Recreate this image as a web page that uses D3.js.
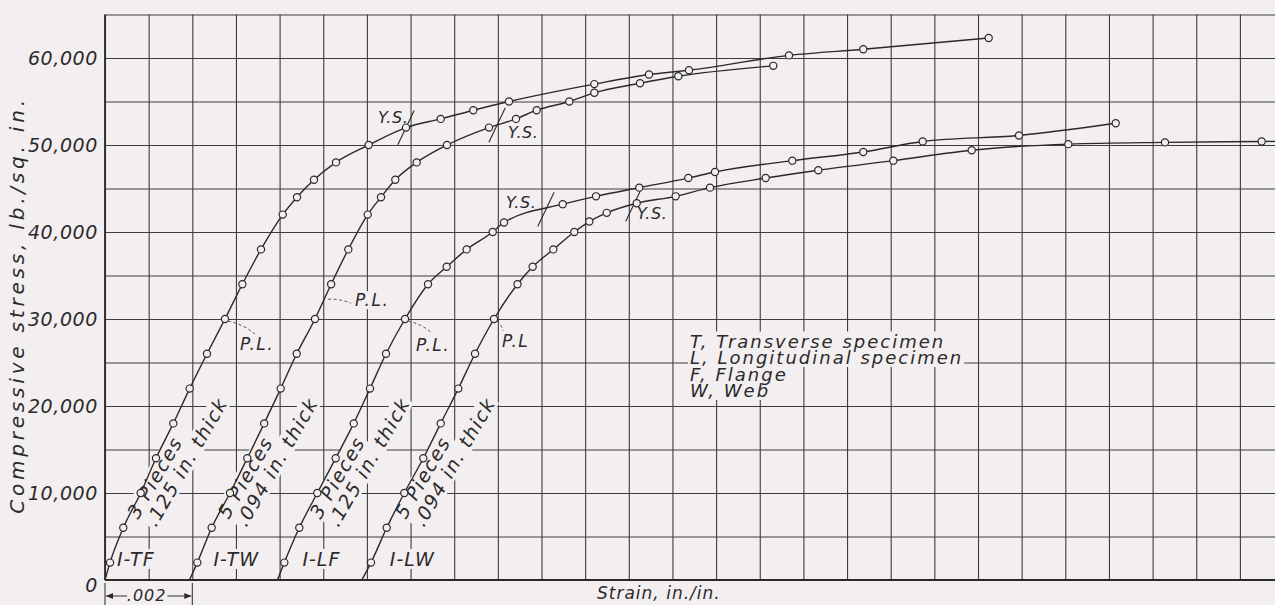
<!DOCTYPE html>
<html>
<head>
<meta charset="utf-8">
<script src="https://cdn.jsdelivr.net/npm/d3@7"></script>
<style>
  html, body { margin: 0; padding: 0; background: #f3eef0; }
  svg { display: block; }
  text { font-family: "DejaVu Sans", sans-serif; font-style: oblique; fill: #2a2a2a; }
</style>
</head>
<body>
<svg id="chart" width="1275" height="605"></svg>
<script>
// Compressive stress-strain curves for I-beam specimens.
// Stress in lb./sq. in.; strain in units of 0.001 in./in.
// Each curve's origin is shifted .002 to the right of the previous one.

const specimens = ["I-TF", "I-TW", "I-LF", "I-LW"];
const pieces    = ["3 Pieces", "5 Pieces", "3 Pieces", "5 Pieces"];
const thickness = [".125 in. thick", ".094 in. thick", ".125 in. thick", ".094 in. thick"];

const strainTF = [0, 0.115, 0.419, 0.818, 1.168, 1.565, 1.940, 2.337, 2.749, 3.146, 3.574, 4.071, 4.399, 4.788,
                  5.292, 6.041, 6.896, 7.691, 8.438, 9.255, 11.210, 12.463, 13.379, 15.670, 17.372, 20.245];
const stressTF = [0, 2000, 6000, 10000, 14000, 18000, 22000, 26000, 30000, 34000, 38000, 42000, 44000, 46000,
                  48000, 50000, 52000, 53000, 54000, 55000, 57000, 58100, 58600, 60300, 61000, 62300];

const strainTW = [1.935, 2.115, 2.444, 2.864, 3.260, 3.647, 4.025, 4.392, 4.811, 5.181, 5.574, 6.018, 6.323, 6.651,
                  7.141, 7.835, 8.797, 9.416, 9.890, 10.637, 11.210, 12.257, 13.134, 15.310];
const stressTW = [0, 2000, 6000, 10000, 14000, 18000, 22000, 26000, 30000, 34000, 38000, 42000, 44000, 46000,
                  48000, 50000, 52000, 53000, 54000, 55000, 56000, 57100, 57900, 59100];

const strainLF = [3.950, 4.108, 4.451, 4.864, 5.285, 5.698, 6.071, 6.438, 6.873, 7.400, 7.828, 8.286, 8.882, 9.141,
                  10.486, 11.249, 12.240, 13.363, 13.975, 15.746, 17.372, 18.733, 20.939, 23.155];
const stressLF = [0, 2000, 6000, 10000, 14000, 18000, 22000, 26000, 30000, 34000, 36000, 38000, 40000, 41100,
                  43200, 44100, 45100, 46200, 46900, 48200, 49200, 50400, 51100, 52500];

const strainLW = [5.883, 6.094, 6.454, 6.857, 7.292, 7.691, 8.094, 8.477, 8.912, 9.450, 9.798, 10.271, 10.751, 11.095,
                  11.494, 12.181, 13.074, 13.860, 15.136, 16.341, 18.060, 19.856, 22.069, 24.284, 26.499, 27.500];
const stressLW = [0, 2000, 6000, 10000, 14000, 18000, 22000, 26000, 30000, 34000, 36000, 38000, 40000, 41200,
                  42200, 43300, 44100, 45100, 46200, 47100, 48200, 49400, 50100, 50300, 50400, 50450];

// Proportional limit and yield strength of each specimen (lb./sq. in.)
const plStress = [30000, 32500, 30000, 30000];
const plText   = ["P.L.", "P.L.", "P.L.", "P.L"];
const ysStress = [52000, 52300, 42600, 43200];

const stressTicks = [0, 10000, 20000, 30000, 40000, 50000, 60000];
const legendLines = ["T, Transverse specimen", "L, Longitudinal specimen", "F, Flange", "W, Web"];

// ---------------------------------------------------------------------------
const W = 1275, H = 605;
const paper = "#f3eef0", ink = "#2a2a2a", gridInk = "#3c3c3c";

const x = d3.scaleLinear().domain([0, 27]).range([105, 1283.55]);
const y = d3.scaleLinear().domain([0, 65000]).range([580, 14.5]);

const curves = [
  { strain: strainTF, stress: stressTF },
  { strain: strainTW, stress: stressTW },
  { strain: strainLF, stress: stressLF },
  { strain: strainLW, stress: stressLW }
];

function strainAt(c, s) {
  for (let i = 1; i < c.stress.length; i++) {
    if (c.stress[i] >= s) {
      const t = (s - c.stress[i - 1]) / (c.stress[i] - c.stress[i - 1]);
      return c.strain[i - 1] + t * (c.strain[i] - c.strain[i - 1]);
    }
  }
  return c.strain[c.strain.length - 1];
}

const svg = d3.select("#chart");
svg.append("rect").attr("width", W).attr("height", H).attr("fill", paper);

// Grid: one line per .001 strain and per 5,000 lb./sq. in.
const gridV = svg.append("g").attr("transform", `translate(0,${y(0)})`)
  .call(d3.axisBottom(x).tickValues(d3.range(0, 28)).tickSize(-(y(0) - y(65000))).tickFormat(""));
const gridH = svg.append("g").attr("transform", `translate(${x(0)},0)`)
  .call(d3.axisLeft(y).tickValues(d3.range(0, 65001, 5000)).tickSize(-(W - x(0))).tickFormat(""));
[gridV, gridH].forEach(g => {
  g.select(".domain").remove();
  g.selectAll(".tick line").attr("stroke", gridInk).attr("stroke-width", 1.1);
});

// Axis frame lines
svg.append("line").attr("x1", x(0)).attr("x2", x(0)).attr("y1", y(65000)).attr("y2", y(0))
  .attr("stroke", ink).attr("stroke-width", 1.8);
svg.append("line").attr("x1", x(0)).attr("x2", W).attr("y1", y(0)).attr("y2", y(0))
  .attr("stroke", ink).attr("stroke-width", 1.8);

// Stress labels
const yAxis = svg.append("g").attr("transform", `translate(${x(0)},0)`)
  .call(d3.axisLeft(y).tickValues(stressTicks).tickSize(0).tickPadding(7).tickFormat(d3.format(",")));
yAxis.select(".domain").remove();
yAxis.attr("font-size", null).attr("font-family", null);
yAxis.selectAll("text")
  .attr("fill", ink).attr("font-size", 19)
  .style("font-size", "19px").style("letter-spacing", "0.6px")
  .attr("dy", d => d === 0 ? "0.6em" : "0.35em");

// Labels are lettered over a patch of clean paper so grid lines stop short of them
const maskLayer = svg.append("g");
const textLayer = svg.append("g");
function masked(str, px, py, size, spacing, transform) {
  const gm = maskLayer.append("g").attr("transform", transform || null);
  const gt = textLayer.append("g").attr("transform", transform || null);
  const t = gt.append("text").text(str).attr("x", px).attr("y", py)
    .style("font-size", size + "px").style("letter-spacing", spacing + "px");
  const b = t.node().getBBox();
  gm.append("rect").attr("x", b.x - 2).attr("y", b.y + 1).attr("width", b.width + 3)
    .attr("height", b.height - 2).attr("fill", paper);
  return t;
}

// Specimen names near each origin
const nameDx = [12, 24, 25, 28];
curves.forEach((c, i) => masked(specimens[i], x(c.strain[0]) + nameDx[i], 566, 19, 1));

// Number of pieces and thickness, lettered along each elastic line
const noteDx = [33, 39, 43, 44];
curves.forEach((c, i) => {
  const tr = `translate(${x(c.strain[0]) + noteDx[i]},520) rotate(-60)`;
  masked(pieces[i], 0, 0, 19, 1.5, tr);
  masked(thickness[i], 2, 19.5, 19, 1.5, tr);
});

// Legend
legendLines.forEach((s, i) => masked(s, 690, 347.5 + i * 16.5, 18, 2));

// Proportional limit labels
const plTextPos = [[15, 31], [30, 9], [11, 32], [8, 28]];
const plLeader = [[30, 15], [26, 6], [27, 14], [9, 12]];
const plPts = curves.map((c, i) => [x(strainAt(c, plStress[i])), y(plStress[i])]);
plPts.forEach((p, i) => masked(plText[i], p[0] + plTextPos[i][0], p[1] + plTextPos[i][1], 17, 1.5));

// Yield strength labels
const ysTextPos = [[-28, -5], [11, 13], [-40, -1], [3, 15]];
const ysPts = curves.map((c, i) => [x(strainAt(c, ysStress[i])), y(ysStress[i])]);
ysPts.forEach((p, i) => masked("Y.S.", p[0] + ysTextPos[i][0], p[1] + ysTextPos[i][1], 16, 0.6));

// Dashed leaders and yield ticks
plPts.forEach((p, i) => {
  const [dx, dy] = plLeader[i];
  const sx = p[0] + 3, sy = p[1] + 2;
  const ex = p[0] + dx, ey = p[1] + dy;
  svg.append("path")
    .attr("d", `M${sx},${sy} Q${(sx + ex) / 2 + dy * 0.15},${(sy + ey) / 2 - dx * 0.1} ${ex},${ey}`)
    .attr("fill", "none").attr("stroke", "#555").attr("stroke-width", 1)
    .attr("stroke-dasharray", "3,2.5");
});
ysPts.forEach(p => {
  svg.append("line")
    .attr("x1", p[0] - 8.2).attr("y1", p[1] + 17.2)
    .attr("x2", p[0] + 8.2).attr("y2", p[1] - 17.2)
    .attr("stroke", ink).attr("stroke-width", 1.1);
});

// Curves and test points
const line = d3.line().x(d => x(d[0])).y(d => y(d[1])).curve(d3.curveMonotoneX);
curves.forEach(c => {
  const pts = c.strain.map((s, k) => [s, c.stress[k]]);
  svg.append("path").attr("d", line(pts))
    .attr("fill", "none").attr("stroke", ink).attr("stroke-width", 1.4);
  svg.append("g").selectAll("circle").data(pts.filter(d => d[1] > 0)).join("circle")
    .attr("cx", d => x(d[0])).attr("cy", d => y(d[1])).attr("r", 3.6)
    .attr("fill", paper).attr("stroke", ink).attr("stroke-width", 1.2);
});

// Axis titles
svg.append("text").text("Compressive stress, lb./sq. in.")
  .attr("transform", "translate(24,305) rotate(-90)").attr("text-anchor", "middle")
  .style("font-size", "20px").style("letter-spacing", "3.8px");
svg.append("text").text("Strain, in./in.")
  .attr("x", 597).attr("y", 599)
  .style("font-size", "17px").style("letter-spacing", "1px");

// .002 dimension below the first two origins
const d0 = x(0), d1 = x(2), dy0 = 596;
svg.append("line").attr("x1", d0).attr("x2", d0).attr("y1", 583).attr("y2", 605).attr("stroke", ink).attr("stroke-width", 1);
svg.append("line").attr("x1", d1).attr("x2", d1).attr("y1", 583).attr("y2", 605).attr("stroke", ink).attr("stroke-width", 1);
svg.append("line").attr("x1", d0 + 1).attr("x2", d0 + 22).attr("y1", dy0).attr("y2", dy0).attr("stroke", ink).attr("stroke-width", 1);
svg.append("line").attr("x1", d1 - 25).attr("x2", d1 - 1).attr("y1", dy0).attr("y2", dy0).attr("stroke", ink).attr("stroke-width", 1);
svg.append("path").attr("d", `M${d0 + 1},${dy0} l7,-3 l0,6 z`).attr("fill", ink);
svg.append("path").attr("d", `M${d1 - 1},${dy0} l-7,-3 l0,6 z`).attr("fill", ink);
svg.append("text").text(".002").attr("x", (d0 + d1) / 2 - 2).attr("y", 601).attr("text-anchor", "middle")
  .style("font-size", "16px").style("letter-spacing", "1px");
</script>
</body>
</html>
